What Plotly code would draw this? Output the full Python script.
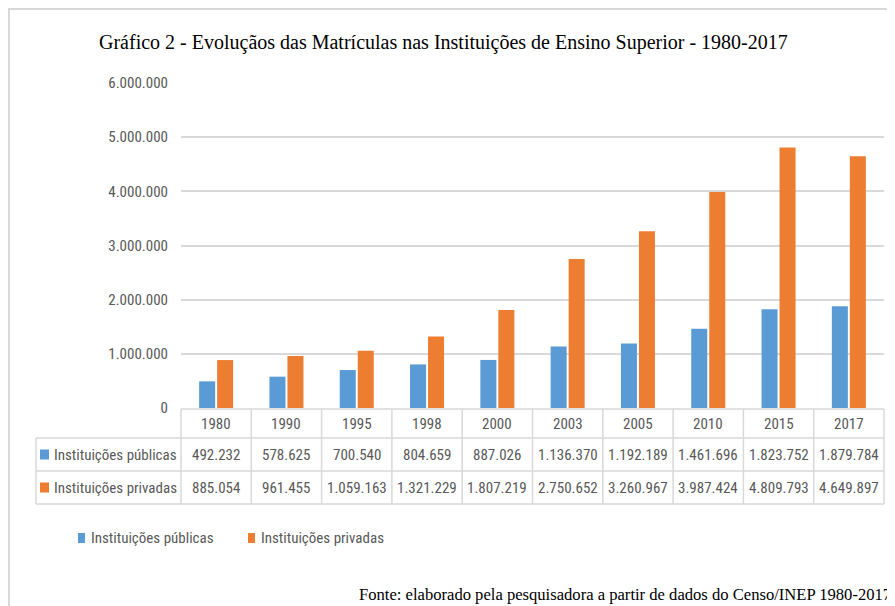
import plotly.graph_objs as go

anos = ['1980', '1990', '1995', '1998', '2000', '2003', '2005', '2010', '2015', '2017']
publicas = [492232, 578625, 700540, 804659, 887026, 1136370, 1192189, 1461696, 1823752, 1879784]
privadas = [885054, 961455, 1059163, 1321229, 1807219, 2750652, 3260967, 3987424, 4809793, 4649897]
series = ['Instituições públicas', 'Instituições privadas']
cores = ['#5B9BD5', '#ED7D31']
yticks = [0, 1000000, 2000000, 3000000, 4000000, 5000000, 6000000]

# a pagina tem 8px de margem no body
OFF = 8
W, H = 895 - OFF, 606 - OFF
L, R, T, B = 173, 11, 75, 198
pw, ph = W - L - R, H - T - B

# posicoes em pixels da imagem original -> paper
def px(x):
    return (x - OFF - L) / pw

def py(y):
    return (H - B - (y - OFF)) / ph

def fmt(v):
    return f'{v:,}'.replace(',', '.')

fonte = 'Liberation Sans Narrow, Roboto Condensed, Arial Narrow, Liberation Sans, sans-serif'
cinza = '#595959'
linha = '#d9d9d9'

fig = go.Figure()
for nome, vals, cor in zip(series, [publicas, privadas], cores):
    fig.add_trace(go.Bar(x=anos, y=vals, name=nome, marker_color=cor,
                         marker_line_width=0))

shapes = []
annots = []

def texto(x, y, t, size=15, xanchor='center', family=fonte, color=cinza):
    annots.append(dict(x=x, y=y, xref='paper', yref='paper', text=t, showarrow=False,
                       xanchor=xanchor, yanchor='middle',
                       font=dict(family=family, size=size, color=color)))

# moldura
shapes.append(dict(type='rect', xref='paper', yref='paper', x0=px(8), x1=px(900),
                   y0=py(8), y1=py(620), line=dict(color=linha, width=4)))

# tabela
rows = [409, 438, 471, 504]
xl = px(36)
n = len(anos)
for i, yy in enumerate(rows):
    shapes.append(dict(type='line', xref='paper', yref='paper',
                       x0=0 if i == 0 else xl, x1=1, y0=py(yy), y1=py(yy),
                       line=dict(color=linha, width=1.5)))
for k in range(n + 1):
    shapes.append(dict(type='line', xref='paper', yref='paper', x0=k / n, x1=k / n,
                       y0=py(rows[0]), y1=py(rows[-1]), line=dict(color=linha, width=1.5)))
shapes.append(dict(type='line', xref='paper', yref='paper', x0=xl, x1=xl,
                   y0=py(rows[1]), y1=py(rows[-1]), line=dict(color=linha, width=1.5)))

for i, a in enumerate(anos):
    texto((i + 0.5) / n, py((rows[0] + rows[1]) / 2), a)
for r, (nome, vals, cor) in enumerate(zip(series, [publicas, privadas], cores)):
    yc = (rows[r + 1] + rows[r + 2]) / 2
    for i, v in enumerate(vals):
        texto((i + 0.5) / n, py(yc), fmt(v))
    shapes.append(dict(type='rect', xref='paper', yref='paper', x0=px(40), x1=px(49),
                       y0=py(yc + 5), y1=py(yc - 5), fillcolor=cor, line=dict(width=0)))
    texto(px(52), py(yc), nome, xanchor='left')

# legenda
for nome, cor, x0 in zip(series, cores, [78, 248]):
    shapes.append(dict(type='rect', xref='paper', yref='paper', x0=px(x0), x1=px(x0 + 7),
                       y0=py(543), y1=py(533), fillcolor=cor, line=dict(width=0)))
    texto(px(x0 + 11), py(538), nome, xanchor='left')

# titulo e fonte
texto(px(443), py(42),
      'Gráfico 2 - Evoluçãos das Matrículas nas Instituições de Ensino Superior - 1980-2017',
      size=20, family='Liberation Serif, serif', color='#000')
texto(px(893), py(594),
      'Fonte: elaborado pela pesquisadora a partir de dados do Censo/INEP 1980-2017',
      size=16.6, xanchor='right', family='Liberation Serif, serif', color='#000')

fig.update_layout(
    width=W, height=H, margin=dict(l=L, r=R, t=T, b=B),
    paper_bgcolor='white', plot_bgcolor='white',
    barmode='group', bargap=0.488, bargroupgap=0.11,
    showlegend=False, shapes=shapes, annotations=annots,
    xaxis=dict(type='category', showticklabels=False, showgrid=False, zeroline=False,
               range=[-0.5, n - 0.5]),
    yaxis=dict(range=[0, 6000000], tickvals=yticks, ticktext=[fmt(v) for v in yticks],
               showgrid=True, gridcolor=linha, gridwidth=1.5, zeroline=False,
               ticks='', ticklabelstandoff=12,
               tickfont=dict(family=fonte, size=15, color=cinza)),
)

fig.write_html('out.html')
